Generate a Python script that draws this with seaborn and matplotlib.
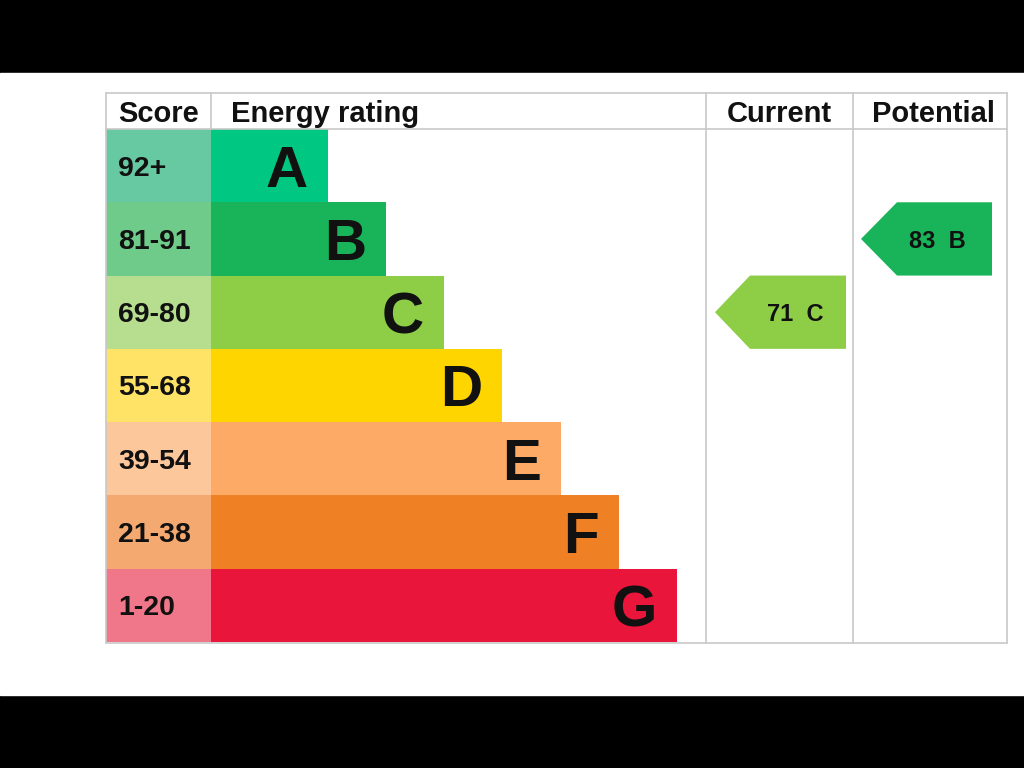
import matplotlib.pyplot as plt
import numpy as np
import pandas as pd
import seaborn as sns
from matplotlib.patches import Rectangle
from matplotlib.transforms import blended_transform_factory

# rating bands, top to bottom
bands = ['A', 'B', 'C', 'D', 'E', 'F', 'G']
score_ranges = ['92+', '81-91', '69-80', '55-68', '39-54', '21-38', '1-20']
band_floor = [92, 81, 69, 55, 39, 21, 1]
bar_len = [2, 3, 4, 5, 6, 7, 8]
band_colors = ['#00c781', '#19b459', '#8dce46', '#ffd500', '#fcaa65', '#ef8023', '#e9153b']
score_colors = ['#66c9a2', '#6fcb8a', '#b6de8e', '#ffe366', '#fdc79c', '#f3a96f', '#f07689']

current_score = 71
potential_score = 83

headers = ['Score', 'Energy rating', 'Current', 'Potential']

sns.set_theme(style='white')
plt.rcParams['font.family'] = ['Liberation Sans', 'DejaVu Sans']

W, H = 1024, 768
fig = plt.figure(figsize=(10.24, 7.68), dpi=100, facecolor='black')
fig.patches.append(Rectangle((0, (H - 695) / H), 1, (695 - 73) / H,
                             transform=fig.transFigure, color='white', zorder=-10))

# table geometry in pixels
top, head_bot, bot = 93, 129, 642
x_left, x_score, x_cur, x_pot, x_right = 106, 211, 706, 853, 1007
ink = '#111111'


def px_axes(x0, x1, y0, y1):
    a = fig.add_axes([x0 / W, (H - y1) / H, (x1 - x0) / W, (y1 - y0) / H])
    a.set_axis_off()
    return a


def band_of(score):
    for i, lo in enumerate(band_floor):
        if score >= lo:
            return i
    return len(bands) - 1


df = pd.DataFrame({'band': bands, 'score': score_ranges, 'len': bar_len})

# score column
ax_s = px_axes(x_left, x_score, head_bot, bot)
ax_s.barh(np.arange(len(bands)), [1] * len(bands), height=1.0, color=score_colors,
          left=0, linewidth=0)
ax_s.set_xlim(0, 1)
ax_s.set_ylim(len(bands) - 0.5, -0.5)
for i, s in enumerate(score_ranges):
    ax_s.text(12 / (x_score - x_left), i, s, ha='left', va='center_baseline',
              fontsize=20.5, fontweight='bold', color=ink)

# energy rating bars
ax_b = px_axes(x_score, x_cur, head_bot, bot)
sns.barplot(data=df, x='len', y='band', hue='band', palette=band_colors,
            orient='h', width=1.0, legend=False, ax=ax_b, saturation=1, linewidth=0)
unit = (677 - x_score) / 8
ax_b.set_xlim(0, (x_cur - x_score) / unit)
ax_b.set_ylim(len(bands) - 0.5, -0.5)
ax_b.set_axis_off()
for i, (b, l) in enumerate(zip(bands, bar_len)):
    ax_b.text(l - 20 / unit, i, b, ha='right', va='center_baseline',
              fontsize=42, fontweight='bold', color=ink)


def arrow(ax, score, tip, notch, right, text_x, color):
    i = band_of(score)
    tr = blended_transform_factory(ax.transAxes, ax.transData)
    xs = [tip, notch, right, right, notch]
    ys = [i, i - 0.5, i - 0.5, i + 0.5, i + 0.5]
    ax.fill(xs, ys, color=color, transform=tr, lw=0)
    ax.text(text_x, i, f'{score}  {bands[i]}', transform=tr,
            ha='center', va='center_baseline', fontsize=17, fontweight='bold',
            color=ink)


ax_c = px_axes(x_cur, x_pot, head_bot, bot)
ax_c.set_ylim(len(bands) - 0.5, -0.5)
arrow(ax_c, current_score, 9 / 147, 44 / 147, 140 / 147, 89 / 147,
      band_colors[band_of(current_score)])

ax_p = px_axes(x_pot, x_right, head_bot, bot)
ax_p.set_ylim(len(bands) - 0.5, -0.5)
arrow(ax_p, potential_score, 8 / 154, 44 / 154, 139 / 154, 84 / 154,
      band_colors[band_of(potential_score)])

# grid lines and headers on a pixel overlay
ov = fig.add_axes([0, 0, 1, 1], facecolor='none')
ov.set_xlim(0, W)
ov.set_ylim(H, 0)
ov.set_axis_off()
lc = '#c8c8c8'
ov.plot([x_left, x_right], [top, top], color=lc, lw=1.2)
ov.plot([x_left, x_right], [head_bot, head_bot], color=lc, lw=1.2)
ov.plot([x_left, x_right], [bot + 1, bot + 1], color=lc, lw=1.2)
ov.plot([x_left, x_left], [top, bot + 1], color=lc, lw=1.2)
ov.plot([x_right, x_right], [top, bot + 1], color=lc, lw=1.2)
ov.plot([x_score, x_score], [top, head_bot], color=lc, lw=1.2)
ov.plot([x_cur, x_cur], [top, bot + 1], color=lc, lw=1.2)
ov.plot([x_pot, x_pot], [top, bot + 1], color=lc, lw=1.2)

hy = (top + head_bot) / 2
ov.text(118, hy, headers[0], ha='left', va='center_baseline', fontsize=21,
        fontweight='bold', color=ink)
ov.text(231, hy, headers[1], ha='left', va='center_baseline', fontsize=21,
        fontweight='bold', color=ink)
ov.text((x_cur + x_pot) / 2, hy, headers[2], ha='center', va='center_baseline',
        fontsize=21, fontweight='bold', color=ink)
ov.text((x_pot + x_right) / 2 + 3, hy, headers[3], ha='center', va='center_baseline',
        fontsize=21, fontweight='bold', color=ink)

fig.savefig('out.png', dpi=100, facecolor='black')
